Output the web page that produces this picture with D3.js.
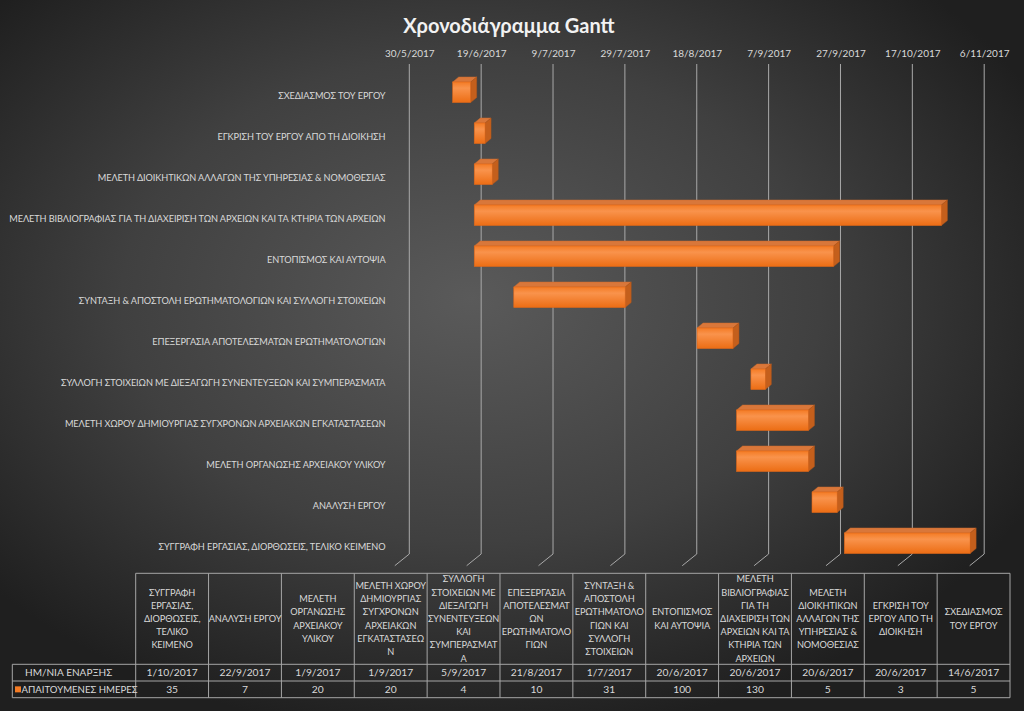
<!DOCTYPE html>
<html>
<head>
<meta charset="utf-8">
<script src="https://cdn.jsdelivr.net/npm/d3@7"></script>
<style>
  html, body { margin: 0; padding: 0; background: #2a2a2a; }
  svg { display: block; }
  text { font-family: Lato, "Noto Sans", "DejaVu Sans", sans-serif; }
</style>
</head>
<body>
<svg id="chart" width="1024" height="711"></svg>
<script>
// ---------- DATA ----------
const categories = [
  "ΣΥΓΓΡΑΦΗ ΕΡΓΑΣΙΑΣ, ΔΙΟΡΘΩΣΕΙΣ, ΤΕΛΙΚΟ ΚΕΙΜΕΝΟ",
  "ΑΝΑΛΥΣΗ ΕΡΓΟΥ",
  "ΜΕΛΕΤΗ ΟΡΓΑΝΩΣΗΣ ΑΡΧΕΙΑΚΟΥ ΥΛΙΚΟΥ",
  "ΜΕΛΕΤΗ ΧΩΡΟΥ ΔΗΜΙΟΥΡΓΙΑΣ ΣΥΓΧΡΟΝΩΝ ΑΡΧΕΙΑΚΩΝ ΕΓΚΑΤΑΣΤΑΣΕΩΝ",
  "ΣΥΛΛΟΓΗ ΣΤΟΙΧΕΙΩΝ ΜΕ ΔΙΕΞΑΓΩΓΗ ΣΥΝΕΝΤΕΥΞΕΩΝ ΚΑΙ  ΣΥΜΠΕΡΑΣΜΑΤΑ",
  "ΕΠΕΞΕΡΓΑΣΙΑ ΑΠΟΤΕΛΕΣΜΑΤΩΝ ΕΡΩΤΗΜΑΤΟΛΟΓΙΩΝ",
  "ΣΥΝΤΑΞΗ & ΑΠΟΣΤΟΛΗ ΕΡΩΤΗΜΑΤΟΛΟΓΙΩΝ ΚΑΙ ΣΥΛΛΟΓΗ ΣΤΟΙΧΕΙΩΝ",
  "ΕΝΤΟΠΙΣΜΟΣ ΚΑΙ ΑΥΤΟΨΙΑ",
  "ΜΕΛΕΤΗ ΒΙΒΛΙΟΓΡΑΦΙΑΣ ΓΙΑ ΤΗ ΔΙΑΧΕΙΡΙΣΗ ΤΩΝ ΑΡΧΕΙΩΝ ΚΑΙ ΤΑ ΚΤΗΡΙΑ ΤΩΝ ΑΡΧΕΙΩΝ",
  "ΜΕΛΕΤΗ ΔΙΟΙΚΗΤΙΚΩΝ ΑΛΛΑΓΩΝ ΤΗΣ ΥΠΗΡΕΣΙΑΣ & ΝΟΜΟΘΕΣΙΑΣ",
  "ΕΓΚΡΙΣΗ ΤΟΥ ΕΡΓΟΥ ΑΠΟ ΤΗ ΔΙΟΙΚΗΣΗ",
  "ΣΧΕΔΙΑΣΜΟΣ ΤΟΥ ΕΡΓΟΥ"
];
const startDates = [
  "1/10/2017", "22/9/2017", "1/9/2017", "1/9/2017", "5/9/2017", "21/8/2017",
  "1/7/2017", "20/6/2017", "20/6/2017", "20/6/2017", "20/6/2017", "14/6/2017"
];
const durations = [35, 7, 20, 20, 4, 10, 31, 100, 130, 5, 3, 5];
const tickLabels = [
  "30/5/2017", "19/6/2017", "9/7/2017", "29/7/2017", "18/8/2017",
  "7/9/2017", "27/9/2017", "17/10/2017", "6/11/2017"
];
const title = "Χρονοδιάγραμμα Gantt";
const rowLabelStart = "ΗΜ/ΝΙΑ ΕΝΑΡΞΗΣ";
const rowLabelDays = "ΑΠΑΙΤΟΥΜΕΝΕΣ ΗΜΕΡΕΣ";

// ---------- SETUP ----------
const parse = d3.utcParse("%d/%m/%Y");
const fmt = d => `${d.getUTCDate()}/${d.getUTCMonth() + 1}/${d.getUTCFullYear()}`;
const DAY = 86400000;
const LABEL_FS = "9.2px", LABEL_LS = "-0.1px";

const tasks = categories.map((c, i) => {
  const s = parse(startDates[i]);
  return { name: c, start: s, end: new Date(+s + durations[i] * DAY), days: durations[i], startStr: startDates[i] };
});
const tickDates = tickLabels.map(parse);

const svg = d3.select("#chart");
const W = 1024, H = 711;
const defs = svg.append("defs");

const bg = defs.append("radialGradient").attr("id", "bg")
  .attr("cx", 0.46).attr("cy", 0.42).attr("r", 0.62);
bg.append("stop").attr("offset", "0%").attr("stop-color", "#5a5a5a");
bg.append("stop").attr("offset", "55%").attr("stop-color", "#404040");
bg.append("stop").attr("offset", "100%").attr("stop-color", "#1f1f1f");
svg.append("rect").attr("width", W).attr("height", H).attr("fill", "url(#bg)");

const barGrad = defs.append("linearGradient").attr("id", "barGrad")
  .attr("x1", 0).attr("y1", 0).attr("x2", 0).attr("y2", 1);
barGrad.append("stop").attr("offset", "0%").attr("stop-color", "#f47b24");
barGrad.append("stop").attr("offset", "30%").attr("stop-color", "#f9934c");
barGrad.append("stop").attr("offset", "100%").attr("stop-color", "#ec6d14");

// scales: back wall (gridlines) and front plane of bars
const x = d3.scaleUtc().domain([tickDates[0], tickDates[tickDates.length - 1]]).range([409.3, 984.2]);
const frontShift = -10.5;
const xFront = d3.scaleUtc().domain(x.domain()).range(x.range().map(v => v + frontShift));
const rowOrder = categories.slice().reverse(); // first category at bottom
const y = d3.scalePoint().domain(rowOrder).range([92.25, 543.25]);

const gridTop = 64, gridBottom = 554;
const floorDx = -14.5, floorDy = 11.7;

// title
svg.append("text").attr("x", 509).attr("y", 33)
  .attr("text-anchor", "middle").attr("fill", "#f2f2f2")
  .style("font-size", "20px").style("font-weight", "bold")
  .text(title);

// gridlines
const grid = svg.append("g").attr("stroke", "#a9a9a9").attr("stroke-width", 1).attr("fill", "none");
grid.selectAll("path").data(tickDates).join("path")
  .attr("d", d => `M${x(d)},${gridTop}V${gridBottom}l${floorDx},${floorDy}`);

// top axis
const axis = d3.axisTop(x).tickValues(tickDates).tickFormat(fmt).tickSize(0).tickPadding(0);
const gAx = svg.append("g").attr("transform", `translate(0,${gridTop - 7})`).call(axis);
gAx.select(".domain").remove();
gAx.selectAll("text").attr("fill", "#d9d9d9").style("font-size", "10px")
  .style("font-family", "Lato, 'Noto Sans', sans-serif");

// category labels
const yAxis = d3.axisLeft(y).tickSize(0).tickPadding(0);
const gY = svg.append("g").attr("transform", `translate(385.5,3)`).call(yAxis);
gY.select(".domain").remove();
gY.selectAll("text").attr("fill", "#d9d9d9").style("font-size", LABEL_FS)
  .style("letter-spacing", LABEL_LS)
  .style("font-family", "Lato, 'Noto Sans', sans-serif");

// 3D bars
const h = 20.5, dx = 6, dy = -5;
const bars = svg.append("g").selectAll("g").data(tasks).join("g");
bars.each(function(d) {
  const g = d3.select(this);
  const x0 = xFront(d.start), x1 = xFront(d.end);
  const y0 = y(d.name) - h / 2;
  g.append("path")
    .attr("d", `M${x0},${y0}L${x0 + dx},${y0 + dy}L${x1 + dx},${y0 + dy}L${x1},${y0}Z`)
    .attr("fill", "#d9773a").attr("stroke", "#c86a2c").attr("stroke-width", 0.5);
  g.append("path")
    .attr("d", `M${x1},${y0}L${x1 + dx},${y0 + dy}L${x1 + dx},${y0 + h + dy}L${x1},${y0 + h}Z`)
    .attr("fill", "#c45f1c").attr("stroke", "#b5561a").attr("stroke-width", 0.5);
  g.append("rect").attr("x", x0).attr("y", y0).attr("width", x1 - x0).attr("height", h)
    .attr("fill", "url(#barGrad)").attr("stroke", "#e0681a").attr("stroke-width", 0.6);
});

// ---------- DATA TABLE ----------
const tLeft = 135.7, tRight = 1010, labelLeft = 12.3;
const tTop = 573.3, hdrBottom = 664.3, r1Bottom = 681, r2Bottom = 697.7;
const col = d3.scaleBand().domain(categories).range([tLeft, tRight]);
const tbl = svg.append("g");

tbl.append("rect").attr("x", labelLeft).attr("y", hdrBottom).attr("width", tLeft - labelLeft)
  .attr("height", r2Bottom - hdrBottom).attr("fill", "#1e1e1e");

const lines = tbl.append("g").attr("stroke", "#a6a6a6").attr("stroke-width", 1).attr("fill", "none");
lines.append("path").attr("d", `M${tLeft},${tTop}H${tRight}`);
[hdrBottom, r1Bottom, r2Bottom].forEach(yy => lines.append("path").attr("d", `M${labelLeft},${yy}H${tRight}`));
lines.append("path").attr("d", `M${labelLeft},${hdrBottom}V${r2Bottom}`);
const bounds = categories.map(c => col(c)).concat([tRight]);
lines.selectAll("path.v").data(bounds).join("path").attr("class", "v")
  .attr("d", b => `M${b},${tTop}V${r2Bottom}`);

// wrapping helper
const measurer = svg.append("text").style("font-size", LABEL_FS).style("letter-spacing", LABEL_LS)
  .attr("visibility", "hidden");
function measure(s) { measurer.text(s); return measurer.node().getComputedTextLength(); }
function wrap(str, maxW, joinW) {
  const words = str.split(/\s+/).filter(w => w.length);
  const out = []; let cur = "";
  words.forEach(w => {
    if (cur && measure(cur + " " + w) <= joinW) { cur = cur + " " + w; return; }
    if (cur) out.push(cur);
    cur = "";
    if (measure(w) <= maxW) { cur = w; return; }
    let part = "";
    for (const ch of w) {
      if (measure(part + ch) <= maxW) part += ch;
      else { out.push(part); part = ch; }
    }
    cur = part;
  });
  if (cur) out.push(cur);
  return out;
}

const lh = 13.2;
const hdr = tbl.append("g").attr("fill", "#d9d9d9").style("font-size", LABEL_FS)
  .style("letter-spacing", LABEL_LS).attr("text-anchor", "middle");
categories.forEach(c => {
  const ls = wrap(c, col.bandwidth() - 0.5, col.bandwidth() + 1.5);
  const cx = col(c) + col.bandwidth() / 2;
  const cy = (tTop + hdrBottom) / 2;
  const t = hdr.append("text").attr("x", cx).attr("y", cy - (ls.length - 1) * lh / 2);
  ls.forEach((l, i) => t.append("tspan").attr("x", cx).attr("dy", i === 0 ? "0.35em" : lh).text(l));
});
measurer.remove();

const cells = tbl.append("g").attr("fill", "#d9d9d9").style("font-size", "10.3px").attr("text-anchor", "middle");
cells.selectAll("text.s").data(tasks).join("text").attr("class", "s")
  .attr("x", d => col(d.name) + col.bandwidth() / 2).attr("y", (hdrBottom + r1Bottom) / 2).attr("dy", "0.35em")
  .text(d => d.startStr);
cells.selectAll("text.n").data(tasks).join("text").attr("class", "n")
  .attr("x", d => col(d.name) + col.bandwidth() / 2).attr("y", (r1Bottom + r2Bottom) / 2).attr("dy", "0.35em")
  .text(d => d.days);

tbl.append("text").attr("x", 25).attr("y", (hdrBottom + r1Bottom) / 2).attr("dy", "0.35em")
  .attr("fill", "#d9d9d9").style("font-size", "10px").text(rowLabelStart);
tbl.append("rect").attr("x", 15).attr("y", (r1Bottom + r2Bottom) / 2 - 3).attr("width", 6).attr("height", 6)
  .attr("fill", "#f47b24");
tbl.append("text").attr("x", 21.5).attr("y", (r1Bottom + r2Bottom) / 2).attr("dy", "0.35em")
  .attr("fill", "#d9d9d9").style("font-size", "9.6px").text(rowLabelDays);
</script>
</body>
</html>
